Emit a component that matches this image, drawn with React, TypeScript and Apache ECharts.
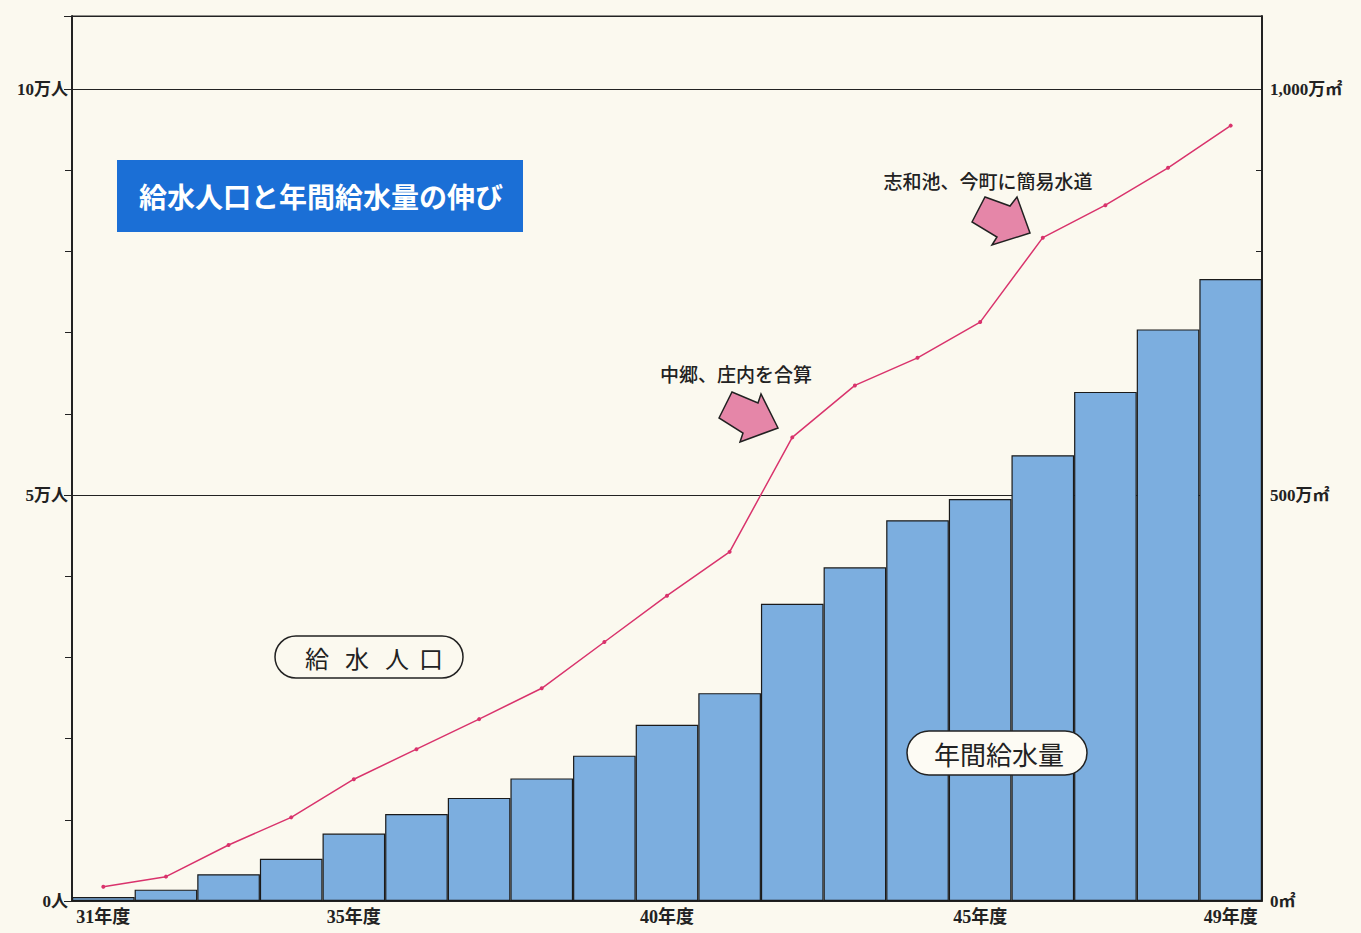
import React, { useEffect, useRef } from "react";
import * as echarts from "echarts";

const years = [
  "31年度", "32年度", "33年度", "34年度", "35年度", "36年度", "37年度", "38年度", "39年度", "40年度",
  "41年度", "42年度", "43年度", "44年度", "45年度", "46年度", "47年度", "48年度", "49年度",
];
// 給水人口 (人)
const population = [
  1750, 3000, 6900, 10300, 15000, 18700, 22400, 26200, 31900, 37600,
  43000, 57100, 63500, 66900, 71300, 81700, 85700, 90300, 95500,
];
// 年間給水量 (万㎡)
const waterVolume = [
  5, 14, 33, 52, 83, 107, 127, 151, 179, 217,
  256, 366, 411, 469, 495, 549, 627, 704, 766,
];
const shownYearIdx = [0, 4, 9, 14, 18];
const leftTickLabels: Record<number, string> = { 0: "0人", 50000: "5万人", 100000: "10万人" };
const rightTickLabels: Record<number, string> = { 0: "0㎡", 500: "500万㎡", 1000: "1,000万㎡" };

const FONT = '"Liberation Serif", "Noto Sans CJK JP", serif';
const JP = '"Noto Sans CJK JP", sans-serif';
const INK = "#222222";

export default function App() {
  const ref = useRef<HTMLDivElement>(null);
  useEffect(() => {
    if (!ref.current) return;
    const chart = echarts.init(ref.current, null, { renderer: "svg" });
    const arrow1 = [[719, 418], [732, 392], [758, 403], [761, 394], [778, 428], [740, 442], [743, 433]];
    const arrow2 = [[972, 222], [985, 197], [1010, 206], [1017, 197], [1030, 233], [992, 245], [997, 237]];
    const popChars = ["給", "水", "人", "口"];
    const popX = [317, 357, 397, 431];
    chart.setOption({
      animation: false,
      backgroundColor: "#fbf9ef",
      grid: {
        left: 72, right: 99, top: 16, bottom: 32,
        show: true, borderColor: INK, borderWidth: 1, backgroundColor: "transparent",
      },
      xAxis: {
        type: "category",
        data: years,
        axisLine: { lineStyle: { color: INK, width: 1.5 } },
        axisTick: { show: false },
        axisLabel: {
          interval: (i: number) => shownYearIdx.includes(i),
          color: INK, fontSize: 18, fontWeight: "bold", fontFamily: FONT, margin: 7,
        },
      },
      yAxis: [
        {
          type: "value", position: "left", min: 0, max: 109000, interval: 50000,
          axisLine: { show: true, lineStyle: { color: INK, width: 2 } },
          axisTick: { show: true, length: 8, lineStyle: { color: INK } },
          splitLine: { show: true, lineStyle: { color: INK, width: 1 } },
          axisLabel: {
            formatter: (v: number) => leftTickLabels[v] ?? "",
            color: INK, fontSize: 17, fontWeight: "bold", fontFamily: FONT, margin: 4,
          },
        },
        {
          type: "value", position: "right", min: 0, max: 1090, interval: 500,
          axisLine: { show: true, lineStyle: { color: INK, width: 2 } },
          axisTick: { show: true, length: 6, inside: true, lineStyle: { color: INK } },
          splitLine: { show: false },
          axisLabel: {
            formatter: (v: number) => rightTickLabels[v] ?? "",
            color: INK, fontSize: 17, fontWeight: "bold", fontFamily: FONT, margin: 8,
          },
        },
        {
          type: "value", position: "left", min: 0, max: 109000, interval: 10000,
          axisLine: { show: false },
          axisTick: { show: true, length: 7, lineStyle: { color: INK } },
          splitLine: { show: false },
          axisLabel: { show: false },
        },
        {
          type: "value", position: "right", min: 0, max: 1090, interval: 100,
          axisLine: { show: false },
          axisTick: { show: true, length: 6, inside: true, lineStyle: { color: INK } },
          splitLine: { show: false },
          axisLabel: { show: false },
        },
      ],
      series: [
        {
          name: "年間給水量",
          type: "bar",
          yAxisIndex: 1,
          data: waterVolume,
          barCategoryGap: "0%",
          itemStyle: { color: "#7caedf", borderColor: "#1a1a1a", borderWidth: 1.2 },
          z: 2,
        },
        {
          name: "給水人口",
          type: "line",
          yAxisIndex: 0,
          data: population,
          symbol: "circle",
          symbolSize: 4,
          lineStyle: { color: "#d9336c", width: 1.5 },
          itemStyle: { color: "#d9336c" },
          z: 5,
        },
      ],
      graphic: [
        { type: "rect", shape: { x: 117, y: 160, width: 406, height: 72 }, style: { fill: "#1b6fd6" }, z: 10 },
        {
          type: "text", x: 321, y: 196, z: 11,
          style: {
            text: "給水人口と年間給水量の伸び", fill: "#ffffff",
            font: `bold 28px ${JP}`, align: "center", verticalAlign: "middle",
          },
        },
        {
          type: "rect", shape: { x: 275, y: 636, width: 188, height: 42, r: 21 },
          style: { fill: "#fbf9ef", stroke: INK, lineWidth: 1.5 }, z: 10,
        },
        ...popChars.map((c, i) => ({
          type: "text", x: popX[i], y: 657, z: 11,
          style: { text: c, fill: INK, font: `24px ${JP}`, align: "center", verticalAlign: "middle" },
        })),
        {
          type: "rect", shape: { x: 907, y: 731, width: 180, height: 44, r: 22 },
          style: { fill: "#fdfbf4", stroke: INK, lineWidth: 1.5 }, z: 10,
        },
        {
          type: "text", x: 999, y: 753, z: 11,
          style: { text: "年間給水量", fill: INK, font: `26px ${JP}`, align: "center", verticalAlign: "middle" },
        },
        {
          type: "text", x: 736, y: 373, z: 11,
          style: { text: "中郷、庄内を合算", fill: INK, font: `500 19px ${JP}`, align: "center", verticalAlign: "middle" },
        },
        {
          type: "text", x: 988, y: 180, z: 11,
          style: { text: "志和池、今町に簡易水道", fill: INK, font: `500 19px ${JP}`, align: "center", verticalAlign: "middle" },
        },
        {
          type: "polygon", shape: { points: arrow1 }, z: 10,
          style: { fill: "#e586a8", stroke: "#222", lineWidth: 1.5 },
        },
        {
          type: "polygon", shape: { points: arrow2 }, z: 10,
          style: { fill: "#e586a8", stroke: "#222", lineWidth: 1.5 },
        },
      ],
    });
    return () => chart.dispose();
  }, []);
  return (
    <div
      ref={ref}
      style={{ position: "absolute", left: 0, top: 0, width: 1361, height: 933 }}
    />
  );
}
